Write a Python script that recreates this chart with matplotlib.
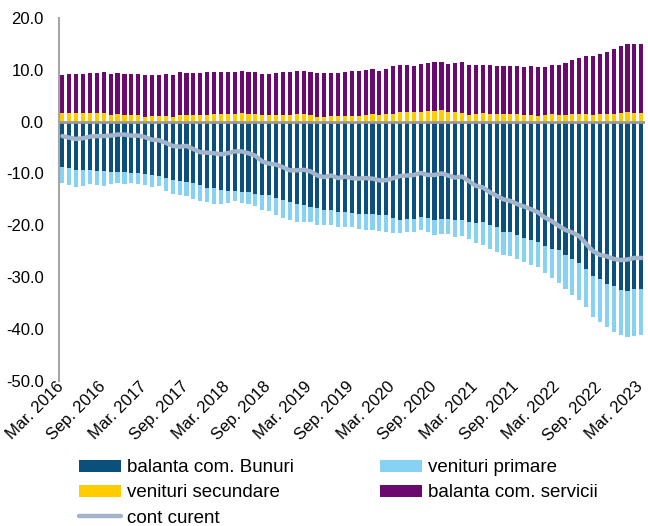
import matplotlib
matplotlib.use("Agg")
import matplotlib.pyplot as plt
import matplotlib.transforms as mtransforms
import numpy as np

plt.rcParams['font.family'] = ['Liberation Sans', 'DejaVu Sans']

# monthly, Mar. 2016 - Mar. 2023 (85 values)
bunuri = [-8.7, -8.9, -9.3, -9.4, -9.3, -9.5, -9.6, -9.7, -9.7, -9.7, -9.9, -9.9, -10.1, -10.3, -10.5, -10.8, -11.2,
          -11.4, -11.6, -11.9, -12.3,
          -12.9, -12.9, -13.1, -13.3, -13.3, -13.5, -13.5, -13.9, -14.1, -14.2, -14.8, -15.1, -15.5, -15.8, -16.1,
          -16.4, -16.7, -17.0, -17.0, -17.4, -17.5,
          -17.7, -17.8, -17.8, -17.9, -18.0, -18.0, -18.5, -18.9, -18.7, -18.7, -18.4, -18.6, -18.9, -18.7, -18.7,
          -18.9, -18.9, -19.3, -19.5, -19.4, -19.9,
          -20.3, -21.2, -21.2, -21.8, -22.5, -22.9, -23.2, -24.0, -24.5, -24.8, -25.7, -26.6, -27.3, -28.4, -29.7,
          -30.3, -31.3, -31.7, -32.4, -32.6, -32.2, -32.2]
primare = [-3.1, -3.3, -3.3, -3.0, -2.8, -2.7, -2.8, -2.3, -2.2, -2.3, -2.0, -2.1, -2.1, -2.3, -1.9, -2.6, -2.7, -2.8,
           -2.8, -3.0, -3.1,
           -2.6, -2.9, -2.8, -2.4, -2.1, -2.2, -2.3, -2.4, -3.0, -3.1, -3.2, -3.4, -3.5, -3.5, -3.2, -3.0, -3.2, -3.0,
           -2.9, -2.9, -2.9,
           -2.7, -3.0, -3.1, -3.1, -3.1, -3.3, -2.9, -2.6, -2.5, -2.5, -2.6, -2.7, -2.9, -2.9, -2.9, -3.3, -3.2, -3.4,
           -4.0, -4.4, -4.6,
           -4.8, -4.5, -4.7, -4.7, -4.5, -4.7, -4.8, -5.3, -5.7, -6.3, -6.6, -6.8, -7.1, -7.4, -7.9, -8.4, -8.3, -8.8,
           -8.8, -8.9, -9.1, -8.9]
secundare = [1.7, 1.7, 1.6, 1.7, 1.7, 1.6, 1.75, 1.3, 1.4, 1.3, 1.2, 1.2, 0.9, 1.0, 1.1, 1.1, 0.9, 1.3, 1.2, 1.25, 1.2,
             1.3, 1.5, 1.5, 1.5, 1.5, 1.7, 1.45, 1.45, 1.2, 1.2, 1.2, 1.25, 1.25, 1.4, 1.4, 1.25, 0.9, 0.9, 1.0, 1.05,
             1.1,
             1.15, 1.15, 1.35, 1.4, 1.25, 1.4, 1.5, 1.8, 1.8, 1.8, 1.9, 1.95, 1.95, 2.2, 1.9, 1.9, 1.75, 1.3, 1.5, 1.6,
             1.55,
             1.5, 1.5, 1.5, 1.45, 1.2, 1.3, 1.05, 1.25, 1.45, 1.3, 1.3, 1.4, 1.4, 1.4, 1.25, 1.45, 1.5, 1.55, 1.75, 1.8,
             1.7, 1.65]
servicii = [7.3, 7.4, 7.55, 7.5, 7.6, 7.7, 7.75, 7.9, 7.9, 7.9, 7.95, 7.9, 8.0, 8.0, 7.9, 8.05, 8.1, 8.2, 8.15, 8.1,
            8.1,
            8.3, 8.15, 8.15, 8.15, 8.15, 8.1, 8.1, 8.15, 7.95, 7.9, 8.15, 8.25, 8.3, 8.45, 8.45, 8.3, 8.45, 8.4, 8.4,
            8.35, 8.5,
            8.55, 8.65, 8.65, 8.65, 8.45, 8.65, 9.2, 9.1, 9.1, 9.0, 9.25, 9.35, 9.45, 9.3, 9.3, 9.4, 9.65, 9.6, 9.4,
            9.3, 9.35,
            9.25, 9.2, 9.25, 9.25, 9.25, 9.4, 9.5, 9.35, 9.5, 9.65, 10.0, 10.5, 10.85, 11.2, 11.35, 11.65, 12.0, 12.45,
            12.75, 13.2, 13.3, 13.25]
cont_curent = [-2.8, -3.1, -3.35, -3.2, -2.9, -2.8, -2.8, -2.7, -2.5, -2.5, -2.7, -2.7, -3.0, -3.5, -3.6, -4.1, -4.7,
               -4.85, -4.7, -5.3, -5.9,
               -6.0, -6.1, -6.3, -6.1, -5.75, -5.75, -6.1, -6.6, -7.7, -8.1, -8.3, -8.8, -9.4, -9.4, -9.3, -9.6,
               -10.4, -10.7, -10.4, -10.9, -10.6,
               -10.9, -11.0, -10.9, -11.0, -11.35, -11.3, -10.9, -10.5, -10.4, -10.3, -9.9, -10.3, -10.3, -10.0,
               -10.4, -10.8, -10.6, -11.5, -12.4, -12.7, -13.6,
               -14.3, -15.0, -15.3, -15.9, -16.4, -16.9, -17.5, -18.5, -19.2, -20.1, -20.9, -21.4, -22.1, -23.6,
               -25.0, -25.7, -26.0, -26.5, -26.7, -26.6, -26.3, -26.3]
tick_labels = ['Mar. 2016', 'Sep. 2016', 'Mar. 2017', 'Sep. 2017', 'Mar. 2018', 'Sep. 2018', 'Mar. 2019',
               'Sep. 2019', 'Mar. 2020', 'Sep. 2020', 'Mar. 2021', 'Sep. 2021', 'Mar. 2022', 'Sep. 2022',
               'Mar. 2023']


def main():
    fig = plt.figure(figsize=(6.48, 5.26), dpi=100)
    ax = fig.add_axes([0.091, 0.276, 0.904, 0.690])
    x = np.arange(len(bunuri))
    w = 0.6

    ax.bar(x, bunuri, w, color='#0B4F7C', label='balanta com. Bunuri', zorder=2)
    ax.bar(x, primare, w, bottom=bunuri, color='#87D1F3', label='venituri primare', zorder=2)
    ax.bar(x, secundare, w, color='#FFCC00', label='venituri secundare', zorder=2)
    ax.bar(x, servicii, w, bottom=secundare, color='#6B0A6E', label='balanta com. servicii', zorder=2)
    ax.axhline(0, color='#999999', lw=2, zorder=3)
    ax.plot(x, cont_curent, color='#A2B4CA', lw=3.2, solid_capstyle='round', label='cont curent', zorder=4)

    ax.set_xlim(-0.5, len(bunuri) - 0.5)
    ax.set_ylim(-50, 20)
    ax.set_yticks(np.arange(-50, 21, 10))
    ax.set_yticklabels(['%.1f' % v for v in np.arange(-50, 21, 10)], fontsize=12)
    ax.set_xticks(x[::6])
    ax.set_xticklabels(tick_labels, rotation=45, ha='right', va='top', rotation_mode='anchor', fontsize=12)
    ax.tick_params(axis='both', length=0)
    ax.tick_params(axis='x', pad=1)
    ax.tick_params(axis='y', pad=11)
    # nudge date labels a bit left/up like the original
    shift = mtransforms.ScaledTranslation(-6 / 100, 3 / 100, fig.dpi_scale_trans)
    for lbl in ax.get_xticklabels():
        lbl.set_transform(lbl.get_transform() + shift)
    for s in ['top', 'right', 'bottom']:
        ax.spines[s].set_visible(False)
    ax.spines['left'].set_color('#A6A6A6')
    ax.spines['left'].set_linewidth(1.5)

    handles, labels = ax.get_legend_handles_labels()
    # column-wise fill: bunuri, secundare, cont curent | primare, servicii
    order = [1, 3, 0, 2, 4]
    handles = [handles[i] for i in order]
    labels = [labels[i] for i in order]
    fig.legend(handles, labels, ncol=2, loc='upper left', bbox_to_anchor=(0.122, 0.127),
               frameon=False, fontsize=13.5, handlelength=2.25, handleheight=0.6,
               columnspacing=4.6, labelspacing=0.44, handletextpad=0.3, borderpad=0, borderaxespad=0)

    fig.savefig('out.png', dpi=100)


if __name__ == '__main__':
    main()
